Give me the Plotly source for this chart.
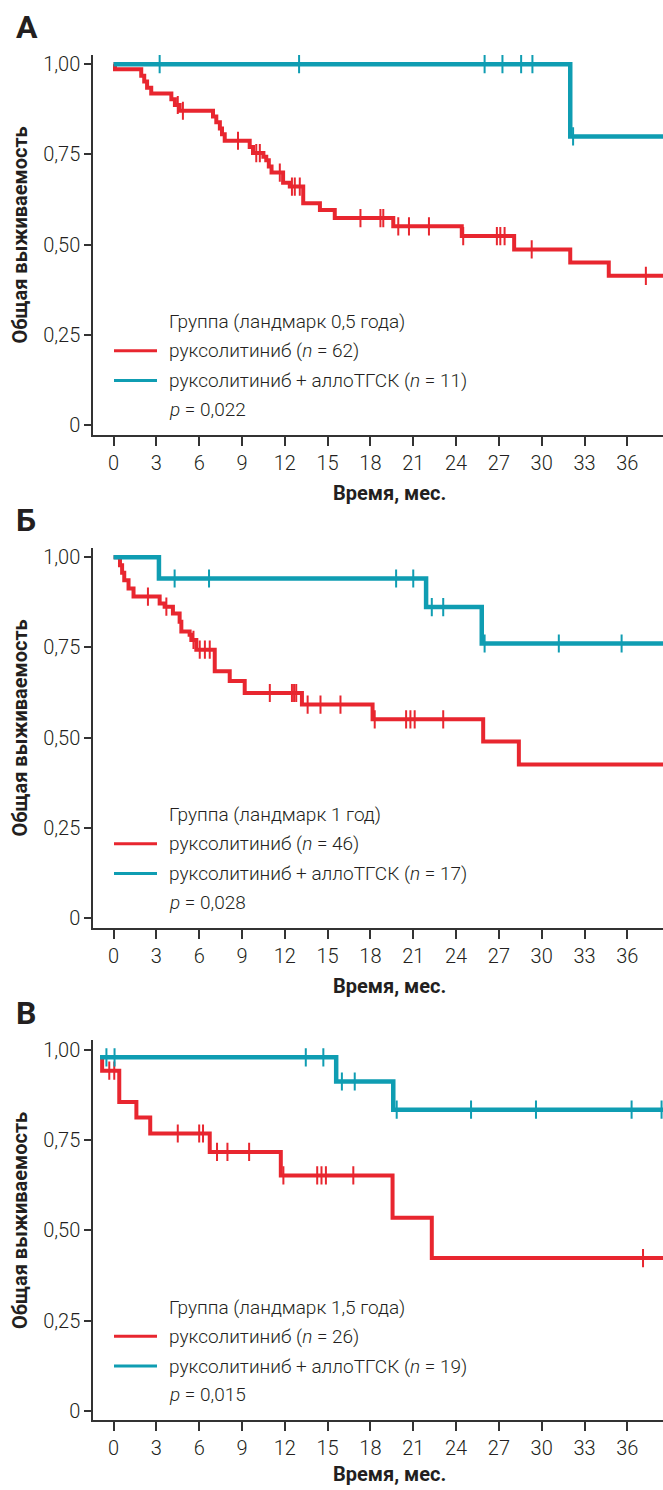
import numpy as np
import plotly.graph_objects as go

W, H = 663, 1490

# ---------------- data (months, survival) ----------------
# Panel A (landmark 0.5 y)
a_red_t = [0.0, 0.1, 1.94, 2.15, 2.35, 2.64, 4.05, 4.3, 4.63, 6.97, 7.2, 7.45, 7.6, 7.79,
           9.54, 9.77, 10.5, 10.7, 10.88, 11.07, 11.88, 12.35, 13.29, 14.46, 15.5, 19.6,
           24.4, 28.07, 32.0, 34.7]
a_red_s = [1.0, 0.986, 0.968, 0.952, 0.935, 0.919, 0.903, 0.887, 0.871, 0.855, 0.839, 0.822,
           0.806, 0.788, 0.771, 0.754, 0.744, 0.734, 0.717, 0.700, 0.672, 0.661, 0.615, 0.596,
           0.574, 0.551, 0.524, 0.487, 0.451, 0.414]
a_red_end = 39.0
a_red_cens = [4.5, 4.86, 8.72, 10.0, 10.25, 11.65, 12.5, 12.7, 13.05, 17.3, 18.7, 18.9,
              19.95, 20.7, 22.1, 24.5, 26.86, 27.1, 27.4, 29.3, 37.3]
a_cyan_t = [0.0, 32.0]
a_cyan_s = [1.0, 0.80]
a_cyan_end = 39.0
a_cyan_cens = [3.23, 13.0, 26.0, 27.25, 28.56, 29.35, 32.2]

# Panel B (landmark 1 y)
b_red_t = [0.0, 0.45, 0.6, 0.75, 1.05, 1.4, 3.23, 3.58, 4.16, 4.63, 4.75, 5.33, 5.45, 5.8,
           7.09, 8.14, 9.19, 13.2, 18.15, 25.9, 28.4]
b_red_s = [1.0, 0.978, 0.957, 0.936, 0.913, 0.891, 0.872, 0.863, 0.844, 0.821, 0.794, 0.785,
           0.771, 0.744, 0.684, 0.657, 0.624, 0.592, 0.551, 0.490, 0.426]
b_red_end = 39.0
b_red_cens = [2.41, 3.7, 5.6, 6.04, 6.4, 6.74, 10.95, 12.5, 12.65, 12.8, 13.6, 14.5, 15.9,
              18.3, 20.5, 20.8, 21.1, 23.1]
b_cyan_t = [0.0, 3.18, 21.9, 25.8]
b_cyan_s = [1.0, 0.941, 0.862, 0.761]
b_cyan_end = 39.0
b_cyan_cens = [4.28, 6.69, 19.8, 21.0, 22.3, 23.1, 26.0, 31.2, 35.6]

# Panel C (landmark 1.5 y)
c_red_t = [-0.95, -0.8, 0.4, 1.6, 2.57, 6.74, 11.72, 19.55, 22.3]
c_red_s = [0.979, 0.942, 0.855, 0.812, 0.768, 0.717, 0.652, 0.535, 0.423]
c_red_end = 39.0
c_red_cens = [-0.3, 0.05, 4.5, 6.0, 6.27, 7.25, 7.98, 9.5, 11.9, 14.27, 14.57, 14.88, 16.8, 37.1]
c_cyan_t = [-0.95, 15.6, 19.6]
c_cyan_s = [0.979, 0.912, 0.834]
c_cyan_end = 39.0
c_cyan_cens = [-0.5, 0.07, 13.47, 14.7, 16.0, 16.9, 19.84, 25.05, 29.6, 36.3, 38.4]

x_ticks = list(range(0, 37, 3))
y_ticks = [0, 0.25, 0.5, 0.75, 1.0]
y_ticktext = ["0", "0,25", "0,50", "0,75", "1,00"]

panel_letters = ["А", "Б", "В"]
legend_titles = ["Группа (ландмарк 0,5 года)", "Группа (ландмарк 1 год)", "Группа (ландмарк 1,5 года)"]
n_red = [62, 46, 26]
n_cyan = [11, 17, 19]
p_values = ["0,022", "0,028", "0,015"]
x_title = "Время, мес."
y_title = "Общая выживаемость"

# ---------------- styling ----------------
RED = "#E8262F"
CYAN = "#0F9DB2"
AX = "#333333"
TXT = "#231F20"
FONT = "Roboto, 'Noto Sans', sans-serif"

def surv_at(ts, ss, tc):
    idx = np.searchsorted(np.array(ts), np.array(tc), side="right") - 1
    return [ss[i] for i in idx]

def py(p):
    return 1 - p / H

def pxx(p):
    return p / W

panels = [
    (a_red_t, a_red_s, a_red_end, a_red_cens, a_cyan_t, a_cyan_s, a_cyan_end, a_cyan_cens),
    (b_red_t, b_red_s, b_red_end, b_red_cens, b_cyan_t, b_cyan_s, b_cyan_end, b_cyan_cens),
    (c_red_t, c_red_s, c_red_end, c_red_cens, c_cyan_t, c_cyan_s, c_cyan_end, c_cyan_cens),
]

# pixel geometry of each panel (top of y-axis, x-axis line)
panel_top = [52.0, 547.0, 1041.5]
panel_bot = [433.5, 928.5, 1423.0]
y_range = [-0.026, 1.026]
x_range = [-1.44, 38.5]

fig = go.Figure()
annotations = []
shapes = []

for i, (rt, rs, rend, rc, ct, cs, cend, cc) in enumerate(panels):
    xa = "x" if i == 0 else f"x{i+1}"
    ya = "y" if i == 0 else f"y{i+1}"
    for t, s, end, cens, col, w in [(rt, rs, rend, rc, RED, 4), (ct, cs, cend, cc, CYAN, 4.5)]:
        fig.add_trace(go.Scatter(x=list(t) + [end], y=list(s) + [s[-1]], mode="lines",
                                 line=dict(color=col, width=w, shape="hv"),
                                 xaxis=xa, yaxis=ya, showlegend=False, hoverinfo="skip"))
    for t, s, cens, col in [(rt, rs, rc, RED), (ct, cs, cc, CYAN)]:
        fig.add_trace(go.Scatter(x=cens, y=surv_at(t, s, cens), mode="markers",
                                 marker=dict(symbol="line-ns", size=13,
                                             line=dict(color=col, width=2)),
                                 xaxis=xa, yaxis=ya, showlegend=False, hoverinfo="skip"))

    top, bot = panel_top[i], panel_bot[i]
    axis_common = dict(showgrid=False, zeroline=False, showline=True, linecolor=AX,
                       linewidth=1.5, ticks="outside", tickcolor=AX, tickwidth=1.5,
                       tickfont=dict(family=FONT, size=20, color=TXT, weight=300))
    fig.layout[("xaxis" if i == 0 else f"xaxis{i+1}")] = dict(
        domain=[93 / W, 1.0], range=x_range, tickvals=x_ticks, ticklen=9,
        anchor=ya, **axis_common)
    fig.layout[("yaxis" if i == 0 else f"yaxis{i+1}")] = dict(
        domain=[py(bot), py(top)], range=y_range, tickvals=y_ticks, ticktext=y_ticktext,
        ticklen=7, anchor=xa, **axis_common)

    y0px = bot - 9.4  # pixel of survival 0
    y1px = y0px - 362.6
    # panel letter
    annotations.append(dict(text=f"<b>{panel_letters[i]}</b>", x=pxx(14), y=py(y1px - 37),
                            xref="paper", yref="paper", xanchor="left", yanchor="middle",
                            showarrow=False, font=dict(family=FONT, size=32, color=TXT)))
    # y title
    annotations.append(dict(text=f"<b>{y_title}</b>", x=pxx(20), y=py(y1px + 172),
                            xref="paper", yref="paper", xanchor="center", yanchor="middle",
                            textangle=-90, showarrow=False,
                            font=dict(family=FONT, size=20, color=TXT)))
    # x title
    annotations.append(dict(text=f"<b>{x_title}</b>", x=pxx(389), y=py(min(y0px + 68, 1477)),
                            xref="paper", yref="paper", xanchor="center", yanchor="middle",
                            showarrow=False, font=dict(family=FONT, size=20, color=TXT)))
    # legend
    leg = [(legend_titles[i], -104),
           (f"руксолитиниб (<i>n</i> = {n_red[i]})", -75),
           (f"руксолитиниб + аллоТГСК (<i>n</i> = {n_cyan[i]})", -45),
           (f"<i>p</i> = {p_values[i]}", -16)]
    for text, off in leg:
        annotations.append(dict(text=text, x=pxx(167), y=py(y0px + off), xref="paper",
                                yref="paper", xanchor="left", yanchor="middle",
                                showarrow=False,
                                font=dict(family=FONT, size=19, color=TXT, weight=300)))
    for col, off in [(RED, -75), (CYAN, -45)]:
        shapes.append(dict(type="line", xref="paper", yref="paper",
                           x0=pxx(114), x1=pxx(157), y0=py(y0px + off), y1=py(y0px + off),
                           line=dict(color=col, width=3)))

fig.update_layout(width=W, height=H, margin=dict(l=0, r=0, t=0, b=0),
                  paper_bgcolor="white", plot_bgcolor="white",
                  annotations=annotations, shapes=shapes,
                  font=dict(family=FONT, color=TXT))

fig.write_html("out.html")
